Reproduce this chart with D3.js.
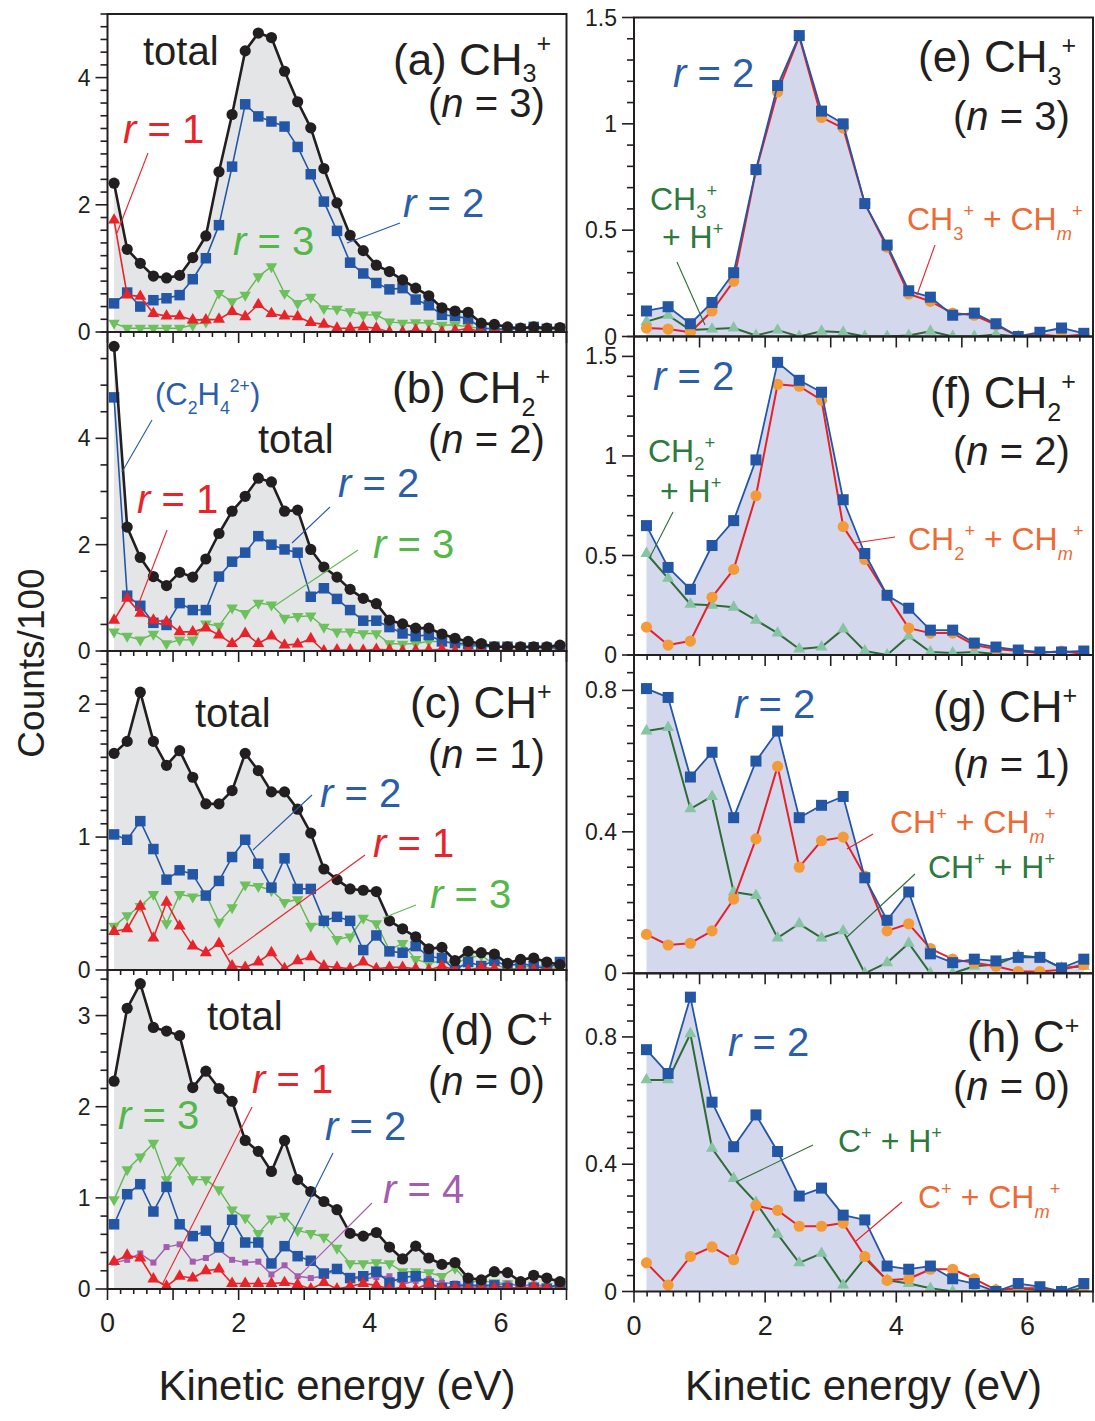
<!DOCTYPE html>
<html><head><meta charset="utf-8">
<script src="https://cdn.jsdelivr.net/npm/d3@7"></script>
<style>
body{margin:0;background:#fff}
text{font-family:"Liberation Sans",Arial,Helvetica,sans-serif;white-space:pre}
</style>
</head><body>
<svg id="c" width="1095" height="1421"></svg>
<script>
// ---------------- DATA ----------------
const xLeft = [0.1,0.3,0.5,0.7,0.9,1.1,1.3,1.5,1.7,1.9,2.1,2.3,2.5,2.7,2.9,3.1,3.3,3.5,3.7,3.9,4.1,4.3,4.5,4.7,4.9,5.1,5.3,5.5,5.7,5.9,6.1,6.3,6.5,6.7,6.9];
const xRight = [0.19,0.52,0.86,1.19,1.52,1.86,2.19,2.52,2.86,3.19,3.52,3.86,4.19,4.52,4.86,5.19,5.52,5.86,6.19,6.52,6.86];

// (a) CH3+
const aTotal = [2.34,1.30,1.08,0.88,0.85,0.89,1.17,1.51,2.52,3.42,4.42,4.70,4.63,4.10,3.62,3.21,2.57,2.03,1.52,1.28,1.05,0.95,0.82,0.69,0.57,0.38,0.33,0.31,0.14,0.12,0.08,0.06,0.08,0.06,0.07];
const aR2 = [0.45,0.62,0.40,0.50,0.53,0.58,0.83,1.16,1.68,2.60,3.58,3.39,3.31,3.23,2.91,2.48,2.05,1.59,1.09,0.92,0.77,0.67,0.69,0.51,0.42,0.27,0.25,0.21,0.06,0.05,0.04,0.05,0.08,0.05,0.05];
const aR3 = [0.14,0.06,0.06,0.06,0.06,0.06,0.11,0.16,0.61,0.48,0.58,0.87,1.03,0.61,0.45,0.55,0.37,0.36,0.32,0.27,0.27,0.16,0.14,0.15,0.14,0.11,0.11,0.08,0.06,0.05,0.04,0.06,0.05,0.04,0.04];
const aR1 = [1.76,0.58,0.56,0.29,0.25,0.25,0.19,0.19,0.20,0.32,0.24,0.43,0.29,0.25,0.24,0.15,0.12,0.06,0.06,0.08,0.06,0.00,0.00,0.03,0.00,0.00,0.02,0.06,0.00,0.01,0.01,0.00,0.01,0.00,0.00];
// (b) CH2+
const bTotal = [5.73,2.33,1.76,1.40,1.23,1.48,1.39,1.73,2.21,2.63,2.91,3.25,3.18,2.63,2.65,1.91,1.58,1.39,1.16,0.99,0.89,0.58,0.51,0.43,0.43,0.32,0.24,0.18,0.14,0.08,0.08,0.08,0.08,0.08,0.11];
const bR2 = [4.77,1.04,0.85,0.53,0.49,0.90,0.77,0.77,1.40,1.68,1.85,2.16,2.00,1.91,1.85,1.02,1.18,0.98,0.77,0.57,0.57,0.45,0.33,0.28,0.30,0.18,0.15,0.13,0.10,0.08,0.08,0.06,0.07,0.06,0.06];
const bR3 = [0.36,0.28,0.21,0.32,0.14,0.21,0.21,0.51,0.47,0.81,0.71,0.90,0.87,0.62,0.65,0.66,0.45,0.36,0.36,0.33,0.33,0.14,0.13,0.14,0.18,0.18,0.13,0.10,0.08,0.08,0.06,0.06,0.06,0.05,0.05];
const bR1 = [0.58,0.99,0.71,0.58,0.55,0.36,0.36,0.43,0.30,0.14,0.33,0.14,0.28,0.11,0.13,0.23,0.00,0.02,0.02,0.01,0.03,0.02,0.00,0.01,0.02,0.03,0.00,0.02,0.01,0.00,0.02,0.01,0.00,0.02,0.00];
// (c) CH+
const cTotal = [1.63,1.72,2.09,1.72,1.54,1.65,1.45,1.25,1.25,1.35,1.63,1.50,1.34,1.34,1.21,1.03,0.76,0.68,0.61,0.60,0.59,0.37,0.31,0.25,0.16,0.17,0.07,0.14,0.13,0.12,0.05,0.08,0.09,0.06,0.04];
const cR2 = [1.02,0.98,1.12,0.91,0.68,0.75,0.72,0.56,0.67,0.85,0.98,0.80,0.62,0.84,0.61,0.61,0.37,0.40,0.37,0.15,0.26,0.14,0.13,0.18,0.10,0.09,0.00,0.06,0.03,0.07,0.03,0.05,0.03,0.01,0.06];
const cR3 = [0.33,0.41,0.48,0.57,0.35,0.57,0.55,0.57,0.36,0.47,0.64,0.63,0.60,0.51,0.53,0.33,0.36,0.23,0.25,0.39,0.35,0.15,0.20,0.08,0.05,0.07,0.05,0.09,0.11,0.04,0.01,0.01,0.04,0.02,0.01];
const cR1 = [0.29,0.31,0.48,0.24,0.51,0.33,0.18,0.13,0.20,0.03,0.02,0.06,0.13,0.01,0.07,0.10,0.03,0.02,0.01,0.06,0.01,0.02,0.02,0.01,0.00,0.03,0.00,0.00,0.02,0.01,0.00,0.01,0.00,0.01,0.00];
// (d) C+
const dTotal = [2.28,3.08,3.35,2.87,2.83,2.78,2.21,2.39,2.20,2.06,1.63,1.51,1.29,1.63,1.20,1.07,0.96,0.87,0.61,0.58,0.62,0.46,0.33,0.47,0.34,0.27,0.29,0.12,0.10,0.19,0.18,0.08,0.15,0.12,0.08];
const dR3 = [0.98,1.31,1.45,1.60,1.20,1.41,1.20,1.20,1.09,0.87,0.78,0.61,0.77,0.80,0.64,0.61,0.57,0.45,0.28,0.28,0.29,0.28,0.19,0.19,0.18,0.14,0.23,0.07,0.09,0.07,0.06,0.04,0.04,0.03,0.02];
const dR2 = [0.71,1.04,1.15,0.85,1.12,0.71,0.58,0.64,0.46,0.76,0.51,0.51,0.28,0.47,0.36,0.31,0.17,0.22,0.12,0.14,0.19,0.07,0.13,0.14,0.06,0.01,0.03,0.04,0.03,0.04,0.01,0.01,0.01,0.00,0.06];
const dR4 = [0.29,0.32,0.39,0.29,0.46,0.49,0.30,0.34,0.43,0.32,0.29,0.30,0.16,0.26,0.14,0.12,0.14,0.22,0.12,0.11,0.13,0.14,0.05,0.09,0.11,0.07,0.06,0.04,0.05,0.04,0.06,0.03,0.05,0.03,0.04];
const dR1 = [0.30,0.37,0.34,0.11,0.03,0.14,0.12,0.20,0.22,0.06,0.06,0.06,0.06,0.07,0.05,0.00,0.07,0.00,0.03,0.06,0.04,0.00,0.02,0.00,0.06,0.01,0.01,0.01,0.01,0.01,0.01,0.01,0.02,0.01,0.00];
// (e) CH3+ r=2
const eR2 = [0.12,0.14,0.06,0.16,0.30,0.785,1.18,1.415,1.06,1.00,0.625,0.43,0.215,0.185,0.10,0.11,0.06,0.00,0.02,0.04,0.015];
const eCHm = [0.04,0.035,0.02,0.12,0.26,0.78,1.15,1.41,1.03,0.98,0.625,0.42,0.20,0.165,0.11,0.10,0.055,0.00,0.01,0.00,0.01];
const eH = [0.07,0.10,0.03,0.035,0.04,0.005,0.03,0.00,0.025,0.02,0.00,0.00,0.005,0.025,0.00,0.00,0.01,0.00,0.00,0.00,0.00];
// (f) CH2+ r=2
const fR2 = [0.65,0.44,0.33,0.55,0.675,0.98,1.47,1.38,1.32,0.78,0.51,0.30,0.235,0.125,0.125,0.06,0.04,0.025,0.015,0.015,0.02];
const fCHm = [0.14,0.05,0.07,0.29,0.43,0.80,1.36,1.35,1.28,0.645,0.48,0.30,0.135,0.11,0.11,0.05,0.03,0.02,0.01,0.02,0.005];
const fH = [0.51,0.385,0.255,0.25,0.24,0.175,0.11,0.03,0.04,0.13,0.02,0.00,0.095,0.015,0.01,0.015,0.005,0.00,0.00,0.00,0.00];
// (g) CH+ r=2
const gR2 = [0.805,0.78,0.555,0.625,0.44,0.60,0.685,0.44,0.475,0.50,0.27,0.15,0.23,0.055,0.03,0.04,0.035,0.045,0.045,0.015,0.04];
const gCHm = [0.11,0.08,0.085,0.12,0.21,0.38,0.585,0.30,0.375,0.385,0.275,0.12,0.14,0.07,0.04,0.03,0.02,0.005,0.005,0.01,0.025];
const gH = [0.685,0.695,0.465,0.50,0.23,0.22,0.10,0.14,0.10,0.12,0.00,0.03,0.085,0.00,0.00,0.02,0.025,0.05,0.045,0.015,0.02];
// (h) C+ r=2
const hR2 = [0.76,0.685,0.925,0.595,0.455,0.555,0.44,0.30,0.325,0.24,0.225,0.08,0.07,0.08,0.04,0.025,0.00,0.025,0.015,0.00,0.025];
const hCHm = [0.09,0.02,0.11,0.14,0.10,0.27,0.255,0.205,0.205,0.215,0.11,0.035,0.04,0.07,0.07,0.04,0.005,0.01,0.01,0.00,0.00];
const hH = [0.665,0.665,0.81,0.45,0.355,0.28,0.18,0.09,0.12,0.02,0.105,0.035,0.025,0.01,0.00,0.00,0.005,0.01,0.005,0.00,0.01];

// tick labels
const xTickLabels = [0,2,4,6];
const yLabA = [0,2,4], yLabB = [0,2,4], yLabC = [0,1,2], yLabD = [0,1,2,3];
const yLabE = [0,0.5,1,1.5], yLabF = [0,0.5,1,1.5], yLabG = [0,0.4,0.8], yLabH = [0,0.4,0.8];

// ---------------- STYLE ----------------
const C = {
  black:'#231f20', blue:'#2456a6', red:'#e8232a', green:'#63b753', greenM:'#6cc15d',
  purple:'#a35db0', orange:'#f39b3b', redLine:'#e5222a', rgreenLine:'#2e6b37', rgreenM:'#86c4a3',
  fillL:'#e4e5e7', fillR:'#d4d8ed',
  lblBlue:'#2b5ea9', lblGreen:'#55b74a', lblRed:'#e8232a', lblPurple:'#a35db0',
  lblOrange:'#ee6a35', lblDGreen:'#2e7a3d'
};
const ST = {
  total:{line:C.black, w:2.6, m:'circle', fill:C.black, s:5.6},
  blue:{line:C.blue, w:1.6, m:'square', fill:C.blue, s:10.5},
  red:{line:C.red, w:1.6, m:'up', fill:C.red, s:12},
  green:{line:C.green, w:1.4, m:'down', fill:C.greenM, s:11.5},
  purple:{line:C.purple, w:1.4, m:'square', fill:C.purple, s:6},
  rblue:{line:C.blue, w:1.8, m:'square', fill:C.blue, s:11},
  orange:{line:C.redLine, w:2.0, m:'circle', fill:C.orange, s:5.6},
  rgreen:{line:C.rgreenLine, w:2.0, m:'up', fill:C.rgreenM, s:12}
};

const svg = d3.select('#c');
const xL = d3.scaleLinear().domain([0,7]).range([107.5,566.5]);
const xR = d3.scaleLinear().domain([0,7]).range([634,1093]);

const panels = [
 {x:xL, xs:xLeft, top:14, bot:332, ymax:5, minor:0.2, labs:yLabA, fillSeries:aTotal, fill:C.fillL, bottom:false,
  series:[[aR3,'green'],[aR2,'blue'],[aR1,'red'],[aTotal,'total']]},
 {x:xL, xs:xLeft, top:332, bot:651, ymax:6, minor:0.5, labs:yLabB, fillSeries:bTotal, fill:C.fillL, bottom:false,
  series:[[bR3,'green'],[bR2,'blue'],[bR1,'red'],[bTotal,'total']]},
 {x:xL, xs:xLeft, top:651, bot:970, ymax:2.4, minor:0.1, labs:yLabC, fillSeries:cTotal, fill:C.fillL, bottom:false,
  series:[[cR3,'green'],[cR2,'blue'],[cR1,'red'],[cTotal,'total']]},
 {x:xL, xs:xLeft, top:970, bot:1289, ymax:3.5, minor:0.2, labs:yLabD, fillSeries:dTotal, fill:C.fillL, bottom:true,
  series:[[dR3,'green'],[dR4,'purple'],[dR2,'blue'],[dR1,'red'],[dTotal,'total']]},
 {x:xR, xs:xRight, top:17.5, bot:336.5, ymax:1.5, minor:0.1, labs:yLabE, fillSeries:eR2, fill:C.fillR, bottom:false,
  series:[[eH,'rgreen'],[eCHm,'orange'],[eR2,'rblue']]},
 {x:xR, xs:xRight, top:336.5, bot:655, ymax:1.6, minor:0.1, labs:yLabF, fillSeries:fR2, fill:C.fillR, bottom:false,
  series:[[fH,'rgreen'],[fCHm,'orange'],[fR2,'rblue']]},
 {x:xR, xs:xRight, top:655, bot:973.3, ymax:0.9, minor:0.05, labs:yLabG, fillSeries:gR2, fill:C.fillR, bottom:false,
  series:[[gH,'rgreen'],[gCHm,'orange'],[gR2,'rblue']]},
 {x:xR, xs:xRight, top:973.3, bot:1291.5, ymax:1.0, minor:0.05, labs:yLabH, fillSeries:hR2, fill:C.fillR, bottom:true,
  series:[[hH,'rgreen'],[hCHm,'orange'],[hR2,'rblue']]}
];

function marker(g, type, cx, cy, st){
  const s = st.s;
  if (type==='circle'){
    g.append('circle').attr('cx',cx).attr('cy',cy).attr('r',s).attr('fill',st.fill);
  } else if (type==='square'){
    g.append('rect').attr('x',cx-s/2).attr('y',cy-s/2).attr('width',s).attr('height',s).attr('fill',st.fill);
  } else {
    const h = s*Math.sqrt(3)/2;
    const sign = type==='up' ? 1 : -1;
    const p = `M${cx},${cy - sign*h*2/3} L${cx+s/2},${cy + sign*h/3} L${cx-s/2},${cy + sign*h/3} Z`;
    g.append('path').attr('d',p).attr('fill',st.fill);
  }
}

const contentLayer = svg.append('g');
const axisLayer = svg.append('g');

panels.forEach(P => {
  const y = d3.scaleLinear().domain([0,P.ymax]).range([P.bot,P.top]);
  P.y = y;
  const g = contentLayer.append('g');
  const x0 = P.x.range()[0], x1 = P.x.range()[1];
  const id = 'clip'+Math.round(P.top);
  svg.append('clipPath').attr('id',id).append('rect')
    .attr('x',x0).attr('y',P.top).attr('width',x1-x0).attr('height',P.bot-P.top);
  g.attr('clip-path',`url(#${id})`);
  const area = d3.area().x((d,i)=>P.x(P.xs[i])).y0(P.bot).y1(d=>y(d));
  g.append('path').datum(P.fillSeries).attr('d',area).attr('fill',P.fill);
  P.series.forEach(([data,key])=>{
    const st = ST[key];
    const line = d3.line().x((d,i)=>P.x(P.xs[i])).y(d=>y(d));
    g.append('path').datum(data).attr('d',line).attr('fill','none')
      .attr('stroke',st.line).attr('stroke-width',st.w).attr('stroke-linejoin','round');
    data.forEach((d,i)=>marker(g, st.m, P.x(P.xs[i]), y(d), st));
  });
  axisLayer.append('rect').attr('x',x0).attr('y',P.top).attr('width',x1-x0).attr('height',P.bot-P.top)
    .attr('fill','none').attr('stroke','#231f20').attr('stroke-width',2);
  const minorTicks = d3.range(0, P.ymax+1e-9, P.minor);
  minorTicks.forEach(v=>{
    const isMajor = P.labs.some(l=>Math.abs(l-v)<1e-6);
    axisLayer.append('line').attr('x1',x0).attr('x2',x0-(isMajor?12:7))
      .attr('y1',y(v)).attr('y2',y(v)).attr('stroke','#231f20').attr('stroke-width',1.6);
  });
  P.labs.forEach(v=>{
    axisLayer.append('text').attr('x',x0-17).attr('y',y(v)).attr('dy','0.35em')
      .attr('text-anchor','end').attr('font-size',23).attr('fill','#231f20').text(String(v));
  });
  d3.range(0, 7+1e-9, 0.2).forEach(v=>{
    const isMajor = Math.abs(v-Math.round(v))<1e-6;
    axisLayer.append('line').attr('x1',P.x(v)).attr('x2',P.x(v))
      .attr('y1',P.bot).attr('y2',P.bot+(isMajor?11:5)).attr('stroke','#231f20').attr('stroke-width',1.6);
  });
  if (P.bottom){
    xTickLabels.forEach(v=>{
      axisLayer.append('text').attr('x',P.x(v)).attr('y',P.bot+43).attr('text-anchor','middle')
        .attr('font-size',27).attr('fill','#231f20').text(String(v));
    });
  }
});

// ---------------- TEXT HELPERS ----------------
function rich(x, y, parts, size, color, subK, supK){
  const sk = subK===undefined ? 0.3 : subK;
  const pk = supK===undefined ? -0.42 : supK;
  const t = axisLayer.append('text').attr('x',x).attr('y',y).attr('font-size',size).attr('fill',color);
  let cur = 0;
  parts.forEach(p=>{
    const [s,m] = (typeof p==='string') ? [p,''] : p;
    let shift = 0, fs = size;
    if (m.indexOf('sub')>=0){ shift = sk*size; fs = 0.57*size; }
    if (m.indexOf('sup')>=0){ shift = pk*size; fs = 0.57*size; }
    const ts = t.append('tspan').attr('dy', shift-cur).attr('font-size',fs).text(s);
    if (m.indexOf('it')>=0) ts.attr('font-style','italic');
    cur = shift;
  });
  return t;
}
function leader(x1,y1,x2,y2,color){
  axisLayer.append('line').attr('x1',x1).attr('y1',y1).attr('x2',x2).attr('y2',y2)
    .attr('stroke',color).attr('stroke-width',1.1);
}
const BIG = 40, TIT = 44, SM = 32;
const rEq = v => [['r','it'],' = '+v];

// (a)
rich(143,65,['total'],BIG,C.black);
rich(393,75,['(a) CH',['3','sub'],['+','sup']],TIT,C.black,0.16,-0.52);
rich(428,117,['(',['n','it'],' = 3)'],BIG,C.black);
rich(123,143,rEq(1),BIG,C.lblRed); leader(148,153,117,233,C.red);
rich(403,217,rEq(2),BIG,C.lblBlue); leader(400,223,347,243,C.blue);
rich(233,255,rEq(3),BIG,C.lblGreen);
// (b)
rich(155,405,['(C',['2','sub'],'H',['4','sub'],['2+','sup'],')'],31,C.lblBlue); leader(152,420,122,472,C.blue);
rich(258,453,['total'],BIG,C.black);
rich(392,403,['(b) CH',['2','sub'],['+','sup']],TIT,C.black);
rich(428,453,['(',['n','it'],' = 2)'],BIG,C.black);
rich(338,497,rEq(2),BIG,C.lblBlue); leader(330,507,292,543,C.blue);
rich(137,513,rEq(1),BIG,C.lblRed); leader(167,530,137,608,C.red);
rich(373,558,rEq(3),BIG,C.lblGreen); leader(358,550,273,607,C.green);
// (c)
rich(195,727,['total'],BIG,C.black);
rich(410,718,['(c) CH',['+','sup']],TIT,C.black);
rich(428,768,['(',['n','it'],' = 1)'],BIG,C.black);
rich(320,807,rEq(2),BIG,C.lblBlue); leader(312,795,253,850,C.blue);
rich(373,857,rEq(1),BIG,C.lblRed); leader(365,855,228,955,C.red);
rich(430,908,rEq(3),BIG,C.lblGreen); leader(416,905,383,918,C.green);
// (d)
rich(207,1030,['total'],BIG,C.black);
rich(440,1045,['(d) C',['+','sup']],TIT,C.black);
rich(428,1095,['(',['n','it'],' = 0)'],BIG,C.black);
rich(252,1093,rEq(1),BIG,C.lblRed); leader(252,1107,162,1285,C.red);
rich(325,1140,rEq(2),BIG,C.lblBlue); leader(333,1153,288,1243,C.blue);
rich(118,1129,rEq(3),BIG,C.lblGreen);
rich(383,1203,rEq(4),BIG,C.lblPurple); leader(372,1203,300,1275,C.purple);
// (e)
rich(673,87,rEq(2),BIG,C.lblBlue);
rich(918,72,['(e) CH',['3','sub'],['+','sup']],TIT,C.black);
rich(953,130,['(',['n','it'],' = 3)'],BIG,C.black);
rich(650,210,['CH',['3','sub'],['+','sup']],SM,C.lblDGreen,0.24);
rich(662,248,['+ H',['+','sup']],SM,C.lblDGreen); leader(677,262,705,325,C.rgreenLine);
rich(907,230,['CH',['3','sub'],['+','sup'],' + CH',['m','sub it'],['+','sup']],SM,C.lblOrange); leader(935,245,917,295,C.redLine);
// (f)
rich(653,390,rEq(2),BIG,C.lblBlue);
rich(930,408,['(f) CH',['2','sub'],['+','sup']],TIT,C.black);
rich(953,465,['(',['n','it'],' = 2)'],BIG,C.black);
rich(648,462,['CH',['2','sub'],['+','sup']],SM,C.lblDGreen,0.24);
rich(660,502,['+ H',['+','sup']],SM,C.lblDGreen); leader(673,512,650,557,C.rgreenLine);
rich(908,550,['CH',['2','sub'],['+','sup'],' + CH',['m','sub it'],['+','sup']],SM,C.lblOrange); leader(895,537,855,543,C.redLine);
// (g)
rich(734,718,rEq(2),BIG,C.lblBlue);
rich(933,722,['(g) CH',['+','sup']],TIT,C.black);
rich(953,778,['(',['n','it'],' = 1)'],BIG,C.black);
rich(890,833,['CH',['+','sup'],' + CH',['m','sub it'],['+','sup']],SM,C.lblOrange); leader(873,834,847,849,C.redLine);
rich(928,878,['CH',['+','sup'],' + H',['+','sup']],SM,C.lblDGreen); leader(915,874,847,937,C.rgreenLine);
// (h)
rich(728,1056,rEq(2),BIG,C.lblBlue);
rich(967,1052,['(h) C',['+','sup']],TIT,C.black);
rich(953,1100,['(',['n','it'],' = 0)'],BIG,C.black);
rich(838,1152,['C',['+','sup'],' + H',['+','sup']],SM,C.lblDGreen); leader(813,1145,736,1182,C.rgreenLine);
rich(918,1208,['C',['+','sup'],' + CH',['m','sub it'],['+','sup']],SM,C.lblOrange); leader(902,1202,856,1241,C.redLine);

// axis titles
axisLayer.append('text').attr('transform','translate(44,663) rotate(-90)').attr('text-anchor','middle')
  .attr('font-size',37).attr('fill','#231f20').text('Counts/100');
axisLayer.append('text').attr('x',(xL.range()[0]+xL.range()[1])/2).attr('y',1400).attr('text-anchor','middle')
  .attr('font-size',42).attr('fill','#231f20').text('Kinetic energy (eV)');
axisLayer.append('text').attr('x',(xR.range()[0]+xR.range()[1])/2).attr('y',1400).attr('text-anchor','middle')
  .attr('font-size',42).attr('fill','#231f20').text('Kinetic energy (eV)');
</script>
</body></html>
